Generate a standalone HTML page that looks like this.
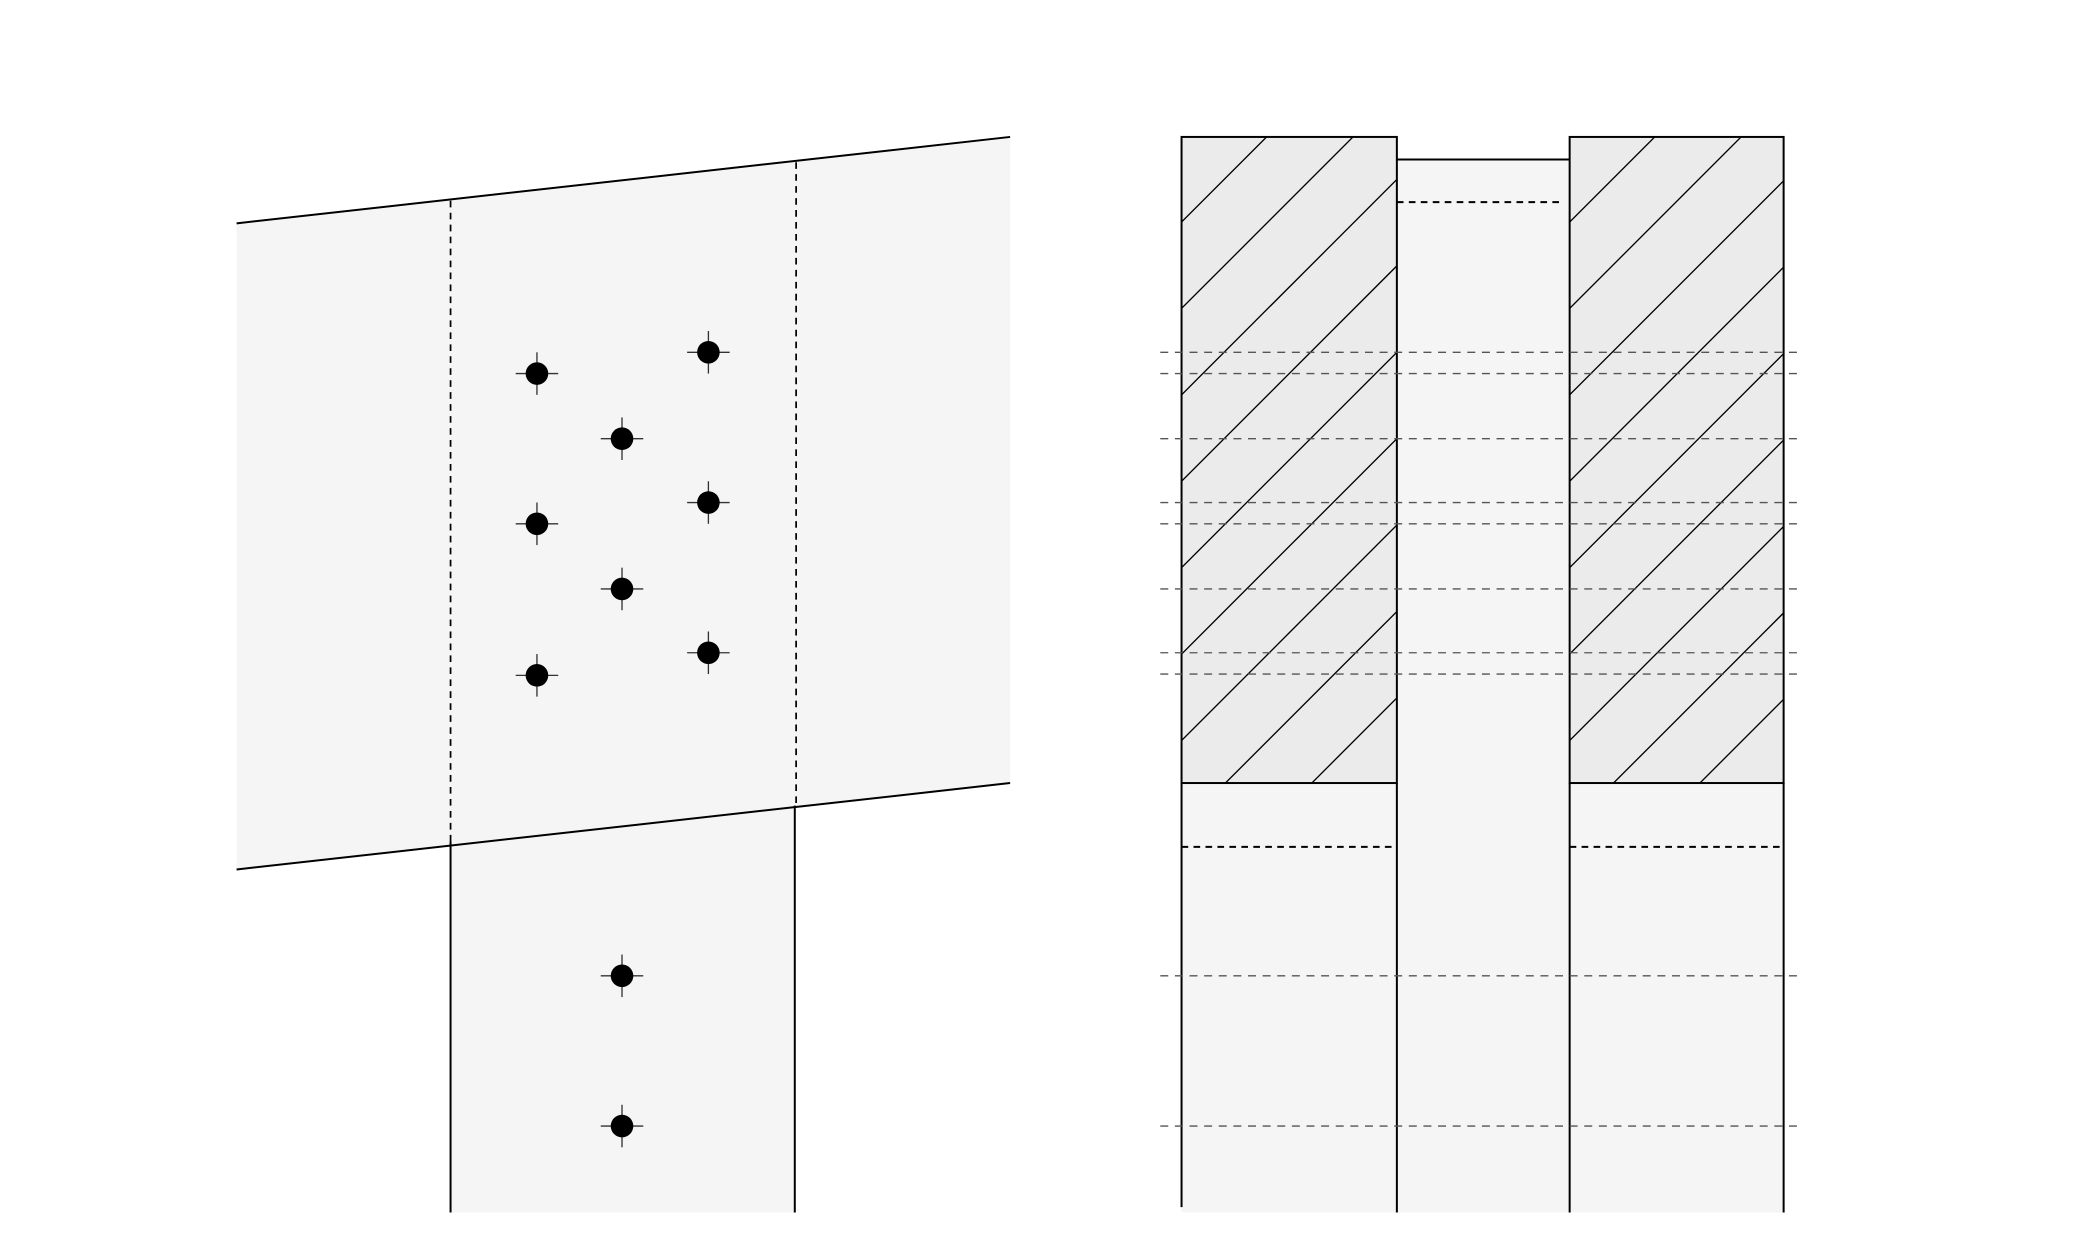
<!DOCTYPE html>
<html><head><meta charset="utf-8"><style>html,body{margin:0;padding:0;background:#fff}svg{display:block}</style></head>
<body>
<svg width="2084" height="1251" viewBox="0 0 1568 941" preserveAspectRatio="none" xmlns="http://www.w3.org/2000/svg">
<defs>
<clipPath id="cl"><rect x="889" y="103" width="162" height="486"/></clipPath>
<clipPath id="cr"><rect x="1181" y="103" width="161" height="486"/></clipPath>
<g id="bolt"><line x1="-16" y1="0" x2="16" y2="0" stroke="#333" stroke-width="1"/><line x1="0" y1="-16" x2="0" y2="16" stroke="#333" stroke-width="1"/><circle r="8.5" fill="#000"/></g>
</defs>
<rect x="339" y="600" width="259" height="312" fill="#f5f5f5"/>
<polygon points="178,168 760,103 760,589 178,654" fill="#f5f5f5"/>
<line x1="178" y1="168" x2="760" y2="103" stroke="#000" stroke-width="1.5"/>
<line x1="178" y1="654" x2="760" y2="589" stroke="#000" stroke-width="1.5"/>
<line x1="339" y1="633" x2="339" y2="912" stroke="#000" stroke-width="1.5"/>
<line x1="598" y1="606" x2="598" y2="912" stroke="#000" stroke-width="1.5"/>
<line x1="339" y1="151" x2="339" y2="633" stroke="#000" stroke-width="1.3" stroke-dasharray="5,4"/>
<line x1="599" y1="122" x2="599" y2="606" stroke="#000" stroke-width="1.3" stroke-dasharray="5,4"/>
<use href="#bolt" x="404" y="281"/><use href="#bolt" x="533" y="265"/><use href="#bolt" x="468" y="330"/>
<use href="#bolt" x="404" y="394"/><use href="#bolt" x="533" y="378"/><use href="#bolt" x="468" y="443"/>
<use href="#bolt" x="404" y="508"/><use href="#bolt" x="533" y="491"/>
<use href="#bolt" x="468" y="734"/><use href="#bolt" x="468" y="847"/>
<rect x="1051" y="120" width="130" height="792" fill="#f5f5f5"/>
<rect x="889" y="589" width="162" height="323" fill="#f5f5f5"/>
<rect x="1181" y="589" width="161" height="323" fill="#f5f5f5"/>
<rect x="889" y="103" width="162" height="486" fill="#ebebeb"/>
<rect x="1181" y="103" width="161" height="486" fill="#ebebeb"/>
<g clip-path="url(#cl)" stroke="#000" stroke-width="1">
<line x1="356" y1="700" x2="1056" y2="0"/><line x1="421" y1="700" x2="1121" y2="0"/><line x1="486" y1="700" x2="1186" y2="0"/>
<line x1="551" y1="700" x2="1251" y2="0"/><line x1="616" y1="700" x2="1316" y2="0"/><line x1="681" y1="700" x2="1381" y2="0"/>
<line x1="746" y1="700" x2="1446" y2="0"/><line x1="811" y1="700" x2="1511" y2="0"/><line x1="876" y1="700" x2="1576" y2="0"/>
<line x1="941" y1="700" x2="1641" y2="0"/><line x1="1006" y1="700" x2="1706" y2="0"/>
</g>
<g clip-path="url(#cr)" stroke="#000" stroke-width="1">
<line x1="648" y1="700" x2="1348" y2="0"/><line x1="713" y1="700" x2="1413" y2="0"/><line x1="778" y1="700" x2="1478" y2="0"/>
<line x1="843" y1="700" x2="1543" y2="0"/><line x1="908" y1="700" x2="1608" y2="0"/><line x1="973" y1="700" x2="1673" y2="0"/>
<line x1="1038" y1="700" x2="1738" y2="0"/><line x1="1103" y1="700" x2="1803" y2="0"/><line x1="1168" y1="700" x2="1868" y2="0"/>
<line x1="1233" y1="700" x2="1933" y2="0"/><line x1="1298" y1="700" x2="1998" y2="0"/>
</g>
<g fill="none" stroke="#000" stroke-width="1.5">
<rect x="889" y="103" width="162" height="486"/>
<rect x="1181" y="103" width="161" height="486"/>
<line x1="1051" y1="120" x2="1181" y2="120"/>
<line x1="889" y1="589" x2="889" y2="908"/>
<line x1="1051" y1="589" x2="1051" y2="912"/>
<line x1="1181" y1="589" x2="1181" y2="912"/>
<line x1="1342" y1="589" x2="1342" y2="912"/>
</g>
<g stroke="#000" stroke-width="1.5" stroke-dasharray="5,4">
<line x1="1051" y1="152" x2="1176" y2="152"/>
<line x1="889" y1="637" x2="1051" y2="637"/>
<line x1="1181" y1="637" x2="1342" y2="637"/>
</g>
<g stroke="#555" stroke-width="1" stroke-dasharray="6,5">
<line x1="873" y1="265" x2="1354" y2="265"/>
<line x1="873" y1="281" x2="1354" y2="281"/>
<line x1="873" y1="330" x2="1354" y2="330"/>
<line x1="873" y1="378" x2="1354" y2="378"/>
<line x1="873" y1="394" x2="1354" y2="394"/>
<line x1="873" y1="443" x2="1354" y2="443"/>
<line x1="873" y1="491" x2="1354" y2="491"/>
<line x1="873" y1="507" x2="1354" y2="507"/>
<line x1="873" y1="734" x2="1354" y2="734"/>
<line x1="873" y1="847" x2="1354" y2="847"/>
</g>
</svg>
</body></html>
